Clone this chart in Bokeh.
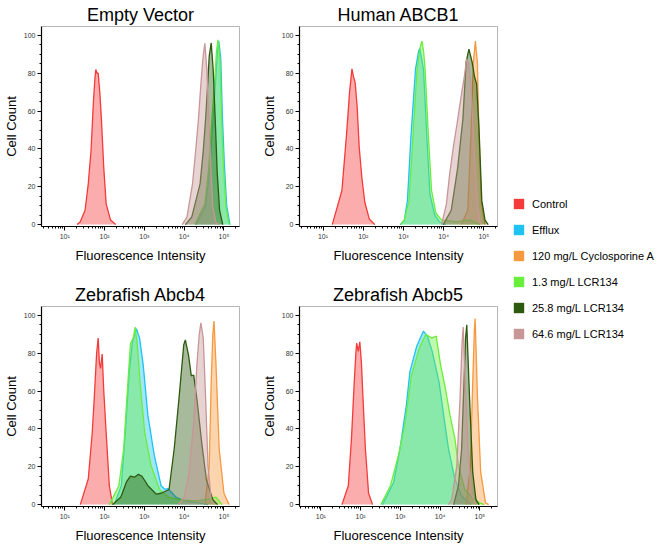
from bokeh.plotting import figure
from bokeh.layouts import row, column
from bokeh.models import Range1d, FixedTicker, SingleIntervalTicker, Legend, LegendItem
from bokeh.embed import file_html
from bokeh.resources import INLINE

FONT = "Liberation Sans"

SERIES = ["Control", "Efflux", "120 mg/L Cyclosporine A",
          "1.3 mg/L LCR134", "25.8 mg/L LCR134", "64.6 mg/L LCR134"]
COLORS = ["#F53A3A", "#1EC3F2", "#F7993E", "#6AEE3C", "#2E5A10", "#C89696"]
TITLES = ["Empty Vector", "Human ABCB1", "Zebrafish Abcb4", "Zebrafish Abcb5"]
X_TICKS = [10, 100, 1000, 10000, 100000]
X_TICK_LABELS = ["10¹", "10²", "10³", "10⁴", "10⁵"]
X_LIMITS = [(2.6, 2.46e5), (2.6, 2.19e5), (2.6, 2.46e5), (2.9, 2.77e5)]
Y_LIMITS = (-1, 104.7)

# ---- Empty Vector (log10 intensity, cell count) ----
ev_control_exp = [1.31, 1.39, 1.51, 1.59, 1.66, 1.72, 1.76, 1.78, 1.81, 1.84, 1.88, 1.92, 1.98, 2.04, 2.15, 2.28]
ev_control_cnt = [0, 1.5, 7.6, 21.5, 39, 65, 78, 82, 80, 80, 70, 56, 30, 11, 2.4, 0]
ev_efflux_exp = [4.30, 4.54, 4.64, 4.72, 4.79, 4.83, 4.87, 4.92, 4.96, 5.01, 5.07, 5.15]
ev_efflux_cnt = [0, 10, 28, 54, 76, 90, 97, 88, 58, 32, 10, 0]
ev_lcr13_exp = [4.27, 4.52, 4.62, 4.70, 4.77, 4.81, 4.85, 4.90, 4.94, 4.99, 5.05, 5.13]
ev_lcr13_cnt = [0, 11, 30, 56, 77, 91, 97.6, 87.5, 56, 30, 9.4, 0]
ev_lcr258_exp = [4.03, 4.19, 4.40, 4.48, 4.54, 4.59, 4.63, 4.68, 4.73, 4.78, 4.83, 4.89, 4.97]
ev_lcr258_cnt = [0, 4, 21.5, 39, 56, 74, 89, 96, 82, 56, 28, 7.6, 0]
ev_lcr646_exp = [3.95, 4.07, 4.21, 4.29, 4.36, 4.42, 4.47, 4.52, 4.57, 4.62, 4.67, 4.72, 4.80, 4.89]
ev_lcr646_cnt = [0, 4, 21.5, 39, 56, 74, 87.5, 95.8, 82, 56, 30, 9.4, 1, 0]

# ---- Human ABCB1 ----
hb_control_exp = [1.23, 1.47, 1.59, 1.66, 1.72, 1.76, 1.80, 1.85, 1.90, 1.97, 2.04, 2.15, 2.29]
hb_control_cnt = [0, 18, 49, 70, 82.3, 78, 75, 62, 41, 24, 11.8, 3, 0]
hb_efflux_exp = [2.92, 3.02, 3.10, 3.19, 3.30, 3.38, 3.41, 3.45, 3.50, 3.58, 3.66, 3.78, 3.90, 4.05]
hb_efflux_cnt = [0, 2, 12.8, 47.6, 82, 92, 93, 88, 82, 47.6, 16, 5, 1.5, 0]
hb_cyca_exp = [4.44, 4.60, 4.68, 4.74, 4.79, 4.84, 4.88, 4.94, 5.03]
hb_cyca_cnt = [0, 7.6, 47.6, 85.8, 97, 85.8, 47.6, 11, 0]
hb_lcr13_exp = [2.93, 3.02, 3.14, 3.24, 3.34, 3.42, 3.46, 3.50, 3.54, 3.62, 3.70, 3.81, 3.95, 4.30, 4.66, 4.90]
hb_lcr13_cnt = [0, 2.4, 12.8, 47.6, 82.3, 94, 97, 92, 82, 47.6, 18, 6, 2.4, 1.5, 2.5, 0]
hb_lcr258_exp = [3.99, 4.19, 4.35, 4.48, 4.56, 4.63, 4.71, 4.77, 4.82, 4.88, 4.95, 5.03, 5.11]
hb_lcr258_cnt = [0, 7.6, 30, 56, 85.8, 92.7, 85.8, 78, 74.5, 51, 12.8, 2.4, 0]
hb_lcr646_exp = [3.95, 4.07, 4.15, 4.25, 4.33, 4.44, 4.52, 4.57, 4.62, 4.68, 4.76, 4.84, 4.92]
hb_lcr646_cnt = [0, 11, 26.7, 42.3, 52.7, 68.4, 78.8, 87.5, 85, 73.6, 39, 11, 0]

# ---- Zebrafish Abcb4 ----
z4_control_exp = [1.39, 1.59, 1.69, 1.74, 1.80, 1.84, 1.87, 1.90, 1.94, 1.98, 2.04, 2.12, 2.20]
z4_control_cnt = [0, 13.5, 38, 56, 80, 88, 75, 72, 79.6, 60, 38, 10, 0]
z4_efflux_exp = [2.24, 2.42, 2.52, 2.62, 2.70, 2.76, 2.80, 2.88, 2.97, 3.09, 3.25, 3.42, 3.52, 3.59, 3.79, 4.00, 4.36, 4.60]
z4_efflux_cnt = [0, 10, 38, 70, 86, 90, 93, 88, 74, 47, 26, 10, 8, 8.5, 4, 2, 1, 0]
z4_cyca_exp = [4.52, 4.63, 4.68, 4.72, 4.75, 4.80, 4.88, 5.00, 5.13]
z4_cyca_cnt = [0, 20, 65, 90, 97, 74, 29.5, 6, 0]
z4_lcr13_exp = [2.12, 2.36, 2.48, 2.56, 2.65, 2.72, 2.77, 2.82, 2.89, 3.01, 3.17, 3.38, 3.60, 3.90, 4.30, 4.65, 4.80, 4.95]
z4_lcr13_cnt = [0, 10, 29.5, 56, 85, 88, 93.8, 85, 65, 38, 20.5, 8, 4, 2.5, 2, 3, 4, 0]
z4_lcr258_exp = [2.20, 2.41, 2.55, 2.65, 2.75, 2.85, 2.94, 3.09, 3.30, 3.42, 3.62, 3.75, 3.87, 3.99, 4.03, 4.11, 4.18, 4.24, 4.32, 4.44, 4.56, 4.72, 4.84]
z4_lcr258_cnt = [0, 4, 12, 15, 14.5, 16, 15, 10, 5.5, 6, 8, 29.5, 56, 84.5, 87, 79, 68, 68.5, 56, 33, 13, 2.6, 0]
z4_lcr646_exp = [3.85, 4.00, 4.11, 4.24, 4.32, 4.38, 4.42, 4.48, 4.54, 4.60, 4.68, 4.76]
z4_lcr646_cnt = [0, 4, 15, 43, 74, 90, 96, 88, 56, 20.5, 2.6, 0]

# ---- Zebrafish Abcb5 ----
z5_control_exp = [1.53, 1.69, 1.77, 1.84, 1.88, 1.90, 1.94, 1.98, 2.02, 2.06, 2.12, 2.20, 2.30]
z5_control_cnt = [0, 10, 35, 65, 80, 85.4, 81, 86, 75, 56, 29.5, 6, 0]
z5_efflux_exp = [2.55, 2.83, 2.99, 3.15, 3.24, 3.41, 3.58, 3.68, 3.80, 3.97, 4.09, 4.21, 4.37, 4.54, 4.78]
z5_efflux_cnt = [0, 11.7, 29.5, 52.6, 70.3, 83.7, 91.7, 89, 81, 65, 47, 29.5, 13.5, 4.6, 0]
z5_cyca_exp = [4.65, 4.76, 4.82, 4.86, 4.88, 4.94, 5.02, 5.14, 5.22]
z5_cyca_cnt = [0, 20.5, 65, 92, 98.4, 56, 17, 1, 0]
z5_lcr13_exp = [2.51, 2.75, 2.95, 3.11, 3.28, 3.48, 3.64, 3.79, 3.90, 4.01, 4.13, 4.25, 4.37, 4.46, 4.62, 4.82, 4.98, 5.11]
z5_lcr13_cnt = [0, 10, 26, 42, 68.5, 83, 90, 88, 89, 74, 61.5, 47, 35, 20.5, 8, 3.7, 1, 0]
z5_lcr258_exp = [4.34, 4.46, 4.54, 4.60, 4.64, 4.67, 4.74, 4.82, 4.90, 4.98]
z5_lcr258_cnt = [0, 10, 29.5, 65, 88, 95, 56, 17, 2.6, 0]
z5_lcr646_exp = [4.21, 4.29, 4.42, 4.50, 4.55, 4.58, 4.63, 4.70, 4.78, 4.90]
z5_lcr646_cnt = [0, 2.6, 20.5, 56, 85, 93.8, 65, 29.5, 6, 0]

PANELS = [
    {0: (ev_control_exp, ev_control_cnt), 1: (ev_efflux_exp, ev_efflux_cnt),
     3: (ev_lcr13_exp, ev_lcr13_cnt), 4: (ev_lcr258_exp, ev_lcr258_cnt),
     5: (ev_lcr646_exp, ev_lcr646_cnt)},
    {0: (hb_control_exp, hb_control_cnt), 1: (hb_efflux_exp, hb_efflux_cnt),
     2: (hb_cyca_exp, hb_cyca_cnt), 3: (hb_lcr13_exp, hb_lcr13_cnt),
     4: (hb_lcr258_exp, hb_lcr258_cnt), 5: (hb_lcr646_exp, hb_lcr646_cnt)},
    {0: (z4_control_exp, z4_control_cnt), 1: (z4_efflux_exp, z4_efflux_cnt),
     2: (z4_cyca_exp, z4_cyca_cnt), 3: (z4_lcr13_exp, z4_lcr13_cnt),
     4: (z4_lcr258_exp, z4_lcr258_cnt), 5: (z4_lcr646_exp, z4_lcr646_cnt)},
    {0: (z5_control_exp, z5_control_cnt), 1: (z5_efflux_exp, z5_efflux_cnt),
     2: (z5_cyca_exp, z5_cyca_cnt), 3: (z5_lcr13_exp, z5_lcr13_cnt),
     4: (z5_lcr258_exp, z5_lcr258_cnt), 5: (z5_lcr646_exp, z5_lcr646_cnt)},
]

MINOR = [m * 10 ** d for d in range(0, 6) for m in range(2, 10)]


def make_panel(k, width, height, bl, br, bt, bb):
    title, data = TITLES[k], PANELS[k]
    p = figure(width=width, height=height, x_axis_type="log",
               x_range=Range1d(*X_LIMITS[k]), y_range=Range1d(*Y_LIMITS),
               output_backend="svg", toolbar_location=None,
               min_border_left=bl, min_border_right=br,
               min_border_top=bt, min_border_bottom=bb)
    p.title.text = title
    p.title.align = "center"
    p.title.text_font = FONT
    p.title.text_font_size = "18px"
    p.title.text_font_style = "normal"
    p.title.text_color = "black"
    p.title.standoff = 4
    p.grid.visible = False
    p.outline_line_color = "#b5b5b5"
    p.background_fill_color = "white"
    for i in range(6):
        if i not in data:
            continue
        ex, cn = data[i]
        xs = [10 ** e for e in ex]
        p.varea(x=xs, y1=[0] * len(xs), y2=cn, fill_color=COLORS[i], fill_alpha=0.42)
        p.line(x=xs, y=cn, line_color=COLORS[i], line_width=1.3)
    xa = p.xaxis[0]
    xa.ticker = FixedTicker(ticks=X_TICKS, minor_ticks=MINOR)
    xa.major_label_overrides = {t: l for t, l in zip(X_TICKS, X_TICK_LABELS)}
    xa.axis_label = "Fluorescence Intensity"
    xa.axis_label_standoff = 5
    ya = p.yaxis[0]
    ya.ticker = SingleIntervalTicker(interval=20, num_minor_ticks=4)
    ya.axis_label = "Cell Count"
    ya.axis_label_standoff = 2
    for ax in (xa, ya):
        ax.axis_line_color = "black"
        ax.axis_line_width = 1.2
        ax.major_tick_line_color = "black"
        ax.minor_tick_line_color = "black"
        ax.major_tick_in = 0
        ax.major_tick_out = 4
        ax.minor_tick_in = 0
        ax.minor_tick_out = 2
        ax.major_label_standoff = 2
        ax.major_label_text_font = FONT
        ax.major_label_text_font_size = "7px"
        ax.major_label_text_color = "#333333"
        ax.axis_label_text_font = FONT
        ax.axis_label_text_font_size = "13px"
        ax.axis_label_text_font_style = "normal"
        ax.axis_label_text_color = "black"
    return p


p1 = make_panel(0, 258, 266, 35, 19, 26, 40)
p2 = make_panel(1, 242, 266, 37, 3, 26, 40)
p3 = make_panel(2, 258, 280, 35, 19, 40, 40)
p4 = make_panel(3, 242, 280, 35, 3, 40, 40)

leg = figure(width=158, height=546, x_range=(0, 1), y_range=(0, 1),
             output_backend="svg", toolbar_location=None,
             x_axis_location=None, y_axis_location=None,
             min_border=0, outline_line_color=None)
leg.grid.visible = False
items = []
for name, c in zip(SERIES, COLORS):
    # off-screen swatch renderer: only its legend glyph is visible
    r = leg.quad(left=[5], right=[6], top=[6], bottom=[5], fill_color=c, line_color=None)
    items.append(LegendItem(label=name, renderers=[r]))
legend = Legend(items=items, location=(12, 206), glyph_width=13, glyph_height=13,
                spacing=13, padding=0, margin=0, label_standoff=7,
                label_height=13, label_text_font=FONT, label_text_font_size="11px",
                label_text_color="black", border_line_color=None,
                background_fill_alpha=0)
leg.add_layout(legend)

layout = row(column(row(p1, p2), row(p3, p4)), leg)

open("out.html", "w").write(file_html(layout, INLINE))
